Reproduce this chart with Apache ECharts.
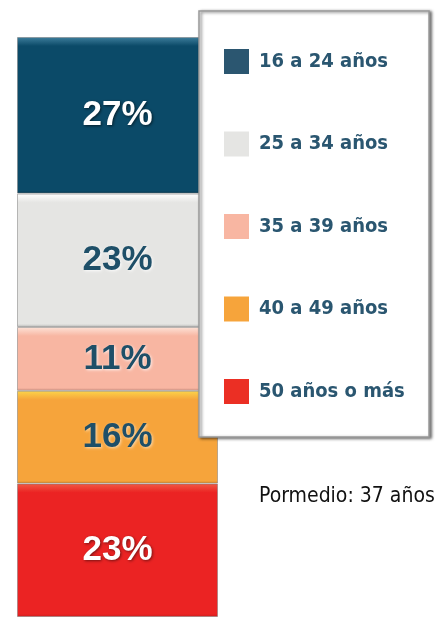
<!DOCTYPE html>
<html><head><meta charset="utf-8">
<script src="https://cdn.jsdelivr.net/npm/echarts@6/dist/echarts.min.js"></script>
<style>html,body{margin:0;padding:0;background:#fff;}#c{width:435px;height:617px;}</style>
</head><body><div id="c"></div>
<script>
const categories = ['Total'];
const seriesNames = ['16 a 24 años', '25 a 34 años', '35 a 39 años', '40 a 49 años', '50 años o más'];
const seriesValues = [27, 23, 11, 16, 23];
const note = 'Pormedio: 37 años';

const baseColors = ['#0b4a68', '#e5e5e3', '#f8b6a2', '#f6a43b', '#eb2323'];
const topColors = ['#3f7f9d', '#ffffff', '#fde3d8', '#fbd54a', '#f25a44'];
const bottomColors = ['#073a53', '#b9b9b7', '#d99584', '#d98a2a', '#c81c1c'];
const legendColors = ['#2b5670', '#e5e5e3', '#f8b6a2', '#f6a43b', '#eb2f24'];
const labelColors = ['#ffffff', '#1e4f68', '#1e4f68', '#1e4f68', '#ffffff'];
const labelShadow = ['rgba(0,0,0,0.6)', 'rgba(255,255,255,0.9)', 'rgba(255,255,255,0.8)', 'rgba(255,255,255,0.6)', 'rgba(0,0,0,0.5)'];

const pxPerUnit = 5.8;
const chart = echarts.init(document.getElementById('c'), null, {renderer: 'canvas'});
const series = seriesNames.map((name, i) => {
  const h = seriesValues[i] * pxPerUnit;
  const t = Math.min(0.4, 9 / h);
  const b = Math.min(0.2, 3 / h);
  return {
    name: name,
    type: 'bar',
    stack: 'total',
    barWidth: '100%',
    data: [seriesValues[i]],
    itemStyle: {
      color: {
        type: 'linear', x: 0, y: 0, x2: 0, y2: 1,
        colorStops: [
          {offset: 0, color: topColors[i]},
          {offset: t, color: baseColors[i]},
          {offset: 1 - b, color: baseColors[i]},
          {offset: 1, color: bottomColors[i]}
        ]
      },
      borderColor: 'rgba(120,120,120,0.5)',
      borderWidth: 1
    },
    label: {
      show: true,
      position: 'inside',
      formatter: '{c}%',
      color: labelColors[i],
      fontFamily: '"Liberation Sans", Arial, sans-serif',
      fontWeight: 'bold',
      fontSize: 35,
      textShadowColor: labelShadow[i],
      textShadowBlur: 3,
      textShadowOffsetX: 1,
      textShadowOffsetY: 1
    },
    z: 1
  };
});

chart.setOption({
  backgroundColor: '#ffffff',
  animation: false,
  color: legendColors,
  grid: {left: 17, top: 37, width: 201, height: 580, containLabel: false},
  xAxis: {type: 'category', data: categories, show: false, boundaryGap: true},
  yAxis: {type: 'value', min: 0, max: 100, inverse: true, show: false},
  legend: {
    orient: 'vertical',
    left: 224,
    top: 49,
    padding: 0,
    itemWidth: 25,
    itemHeight: 25,
    itemGap: 57.5,
    icon: 'rect',
    z: 20,
    data: seriesNames.map((n, i) => ({name: n, itemStyle: {color: legendColors[i], borderWidth: 0}})),
    textStyle: {
      fontFamily: '"Liberation Sans Narrow", "DejaVu Sans Condensed", sans-serif',
      fontWeight: 'bold',
      fontSize: 20,
      color: '#2a5670',
      lineHeight: 25,
      padding: [0, 0, 0, 5]
    },
    selectedMode: false
  },
  graphic: [
    {
      type: 'rect',
      z: 10,
      shape: {x: 199, y: 11, width: 230, height: 426},
      style: {
        fill: '#ffffff',
        stroke: '#9a9a9a',
        lineWidth: 1.5,
        shadowColor: 'rgba(0,0,0,0.55)',
        shadowBlur: 3,
        shadowOffsetX: 2,
        shadowOffsetY: 1
      }
    },
    {
      type: 'text',
      z: 10,
      left: 259,
      top: 486,
      style: {
        text: note,
        fill: '#111111',
        font: '21px "Liberation Sans Narrow", "DejaVu Sans Condensed", sans-serif'
      }
    }
  ],
  series: series
});
</script>
</body></html>
